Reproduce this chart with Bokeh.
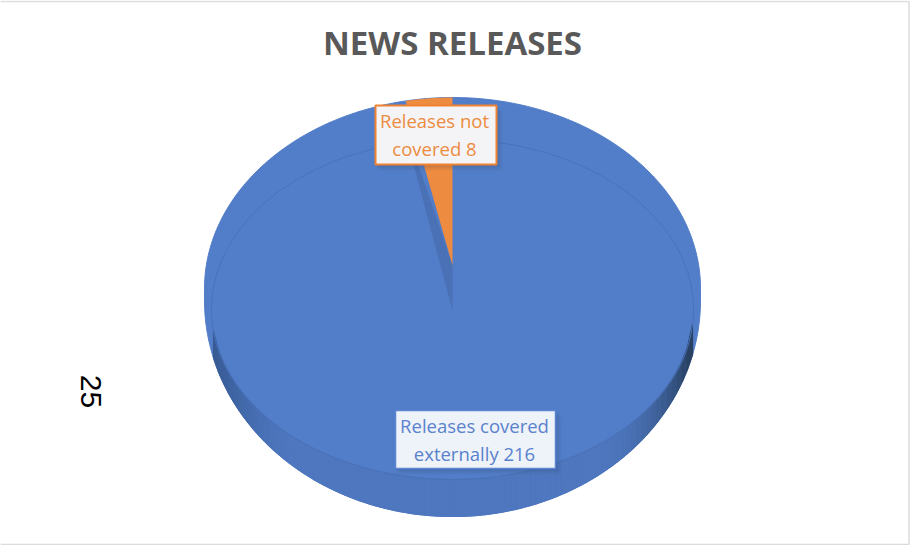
import numpy as np
from bokeh.plotting import figure
from bokeh.models import Range1d
from bokeh.core.properties import value
from bokeh.embed import file_html
from bokeh.resources import INLINE

chart_title = "NEWS RELEASES"
categories = ["Releases covered externally", "Releases not covered"]
counts = [216, 8]
label_lines = ["Releases covered\nexternally 216", "Releases not\ncovered 8"]
side_note = "25"

BLUE = "#527dc8"
WALL = "#4a71b6"
ORANGE = "#ed8b40"
LINE = "#4a72b8"

p = figure(width=910, height=545, output_backend="svg", toolbar_location=None,
           x_range=Range1d(0, 910), y_range=Range1d(545, 0),
           min_border=0, outline_line_color=None, background_fill_color="white",
           border_fill_color="white", tools="")
p.axis.visible = False
p.grid.visible = False

# frame of the slide
p.line([0, 908.5, 908.5, 0], [1, 1, 544, 544], line_color="#dcdcdc", line_width=1.5)

cx, rx = 452.0, 248.0
top_cy, top_ry = 288.0, 191.0
low_cy, low_ry = 300.0, 216.0
rim_cx, rim_cy, rim_rx, rim_ry = 452.0, 309.0, 241.0, 170.0

# silhouette
t1 = np.linspace(np.pi, 2 * np.pi, 200)
t2 = np.linspace(0, np.pi, 200)
sx = np.r_[cx + rx * np.cos(t1), cx + rx * np.cos(t2)]
sy = np.r_[top_cy + top_ry * np.sin(t1), low_cy + low_ry * np.sin(t2)]
p.patch(sx, sy, fill_color=BLUE, line_color=BLUE, line_width=1)


def hex_mix(a, b, f):
    ca = np.array([int(a[i:i + 2], 16) for i in (1, 3, 5)], float)
    cb = np.array([int(b[i:i + 2], 16) for i in (1, 3, 5)], float)
    c = ca + (cb - ca) * f
    return "#%02x%02x%02x" % tuple(int(v) for v in c)


# side band
edges = np.linspace(213, 692, 96)
xs, ys, cols = [], [], []
for a, b in zip(edges[:-1], edges[1:]):
    ta = rim_cy + rim_ry * np.sqrt(max(0, 1 - ((a - rim_cx) / rim_rx) ** 2))
    tb = rim_cy + rim_ry * np.sqrt(max(0, 1 - ((b - rim_cx) / rim_rx) ** 2))
    ba = low_cy + low_ry * np.sqrt(1 - ((a - cx) / rx) ** 2)
    bb = low_cy + low_ry * np.sqrt(1 - ((b - cx) / rx) ** 2)
    xs.append([a, b, b, a])
    ys.append([ta, tb, bb, ba])
    m = (a + b) / 2
    if m < 452:
        f = np.clip((290 - m) / 77, 0, 1) ** 1.5
        cols.append(hex_mix("#4e77bf", "#375a94", f))
    else:
        f = np.clip((m - 600) / 92, 0, 1) ** 2
        cols.append(hex_mix("#4e77bf", "#27405f", f))
p.patches(xs, ys, fill_color=cols, line_color=cols, line_width=1.2)

# rim line
t = np.linspace(0, 2 * np.pi, 400)
p.line(rim_cx + rim_rx * np.cos(t), rim_cy + rim_ry * np.sin(t), line_color=LINE, line_width=1)

# orange slice and its wall, sweep taken from the values
sweep = 2 * np.pi * counts[1] / sum(counts)
far_scale = 0.85
aw = np.linspace(0, sweep, 30)
edge_x = cx - rx * far_scale * np.sin(aw)
edge_y = top_cy - top_ry * np.sqrt(1 - ((edge_x - cx) / rx) ** 2)
apex_top, apex_wall = 265.0, 310.0
p.patch([cx, edge_x[-1] - 9, cx], [apex_wall, edge_y[-1] - 0, apex_top],
        fill_color=WALL, line_color=None)
p.patch(np.r_[cx, edge_x], np.r_[apex_top, edge_y], fill_color=ORANGE, line_color=None)

# label boxes
boxes = [(395, 555, 410, 468, "#5a85d0", "#eef2f9", 1.5),
         (375, 496, 105, 164, "#ee8230", "#f4f4f6", 2)]
for l, r, t_, b, edge, fill, w in boxes:
    for off, al in ((6, .05), (4, .07), (2, .09)):
        p.quad(left=l + off - 2, right=r + off, top=t_ + off, bottom=b + off,
               fill_color="#26324f", fill_alpha=al, line_color=None)
    p.quad(left=l, right=r, top=t_, bottom=b, fill_color=fill, line_color=edge, line_width=w)

label_font = value("Open Sans")
p.text([474], [438.5], text=[label_lines[0]], text_color="#5a82cc", text_font=label_font,
       text_font_size="18.5px", text_align="center", text_baseline="middle", text_line_height=1.12)
p.text([434], [134], text=[label_lines[1]], text_color=ORANGE, text_font=label_font,
       text_font_size="18.5px", text_align="center", text_baseline="middle", text_line_height=1.12)

p.text([452], [41.5], text=[chart_title], text_color="#595959", text_font=value("Open Sans"),
       text_font_style="bold", text_font_size="33px", text_align="center", text_baseline="middle")
p.text([90], [391], text=[side_note], text_color="#000000", text_font=value("Liberation Sans"),
       text_font_size="30px", text_align="center", text_baseline="middle", angle=-np.pi / 2)

open("out.html", "w").write(file_html(p, INLINE))
